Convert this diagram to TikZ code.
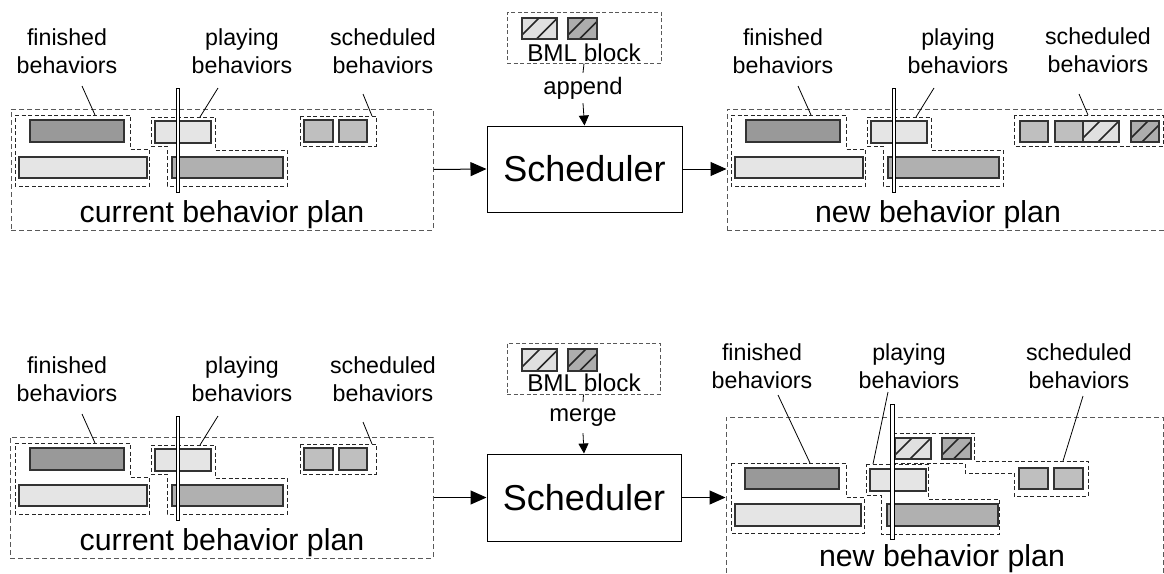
\documentclass[tikz,border=0pt]{standalone}
\usepackage{fontspec}
\setmainfont{Liberation Sans}
\usetikzlibrary{arrows.meta}
\definecolor{darkbar}{gray}{0.6}
\definecolor{midbar}{gray}{0.69}
\definecolor{lightbar}{gray}{0.9}
\definecolor{schedsq}{gray}{0.75}
\definecolor{hatchlight}{gray}{0.88}
\definecolor{hatchdark}{gray}{0.68}
\definecolor{dashgray}{gray}{0.35}
\tikzset{
  outerplan/.style={draw=dashgray, line width=1pt, dash pattern=on 5pt off 3pt, inner sep=0pt},
  grp/.style={draw=black!85, line width=1pt, dash pattern=on 4pt off 2.5pt},
  bar/.style={draw=black!80, line width=1.2pt},
  nowbar/.style={draw=black, fill=white, line width=0.9pt},
  leader/.style={draw=black, line width=0.8pt},
  lbl/.style={font=\fontsize{23.2}{28.5}\selectfont, align=center, inner sep=0pt, anchor=north},
  plantxt/.style={font=\fontsize{30.3}{36}\selectfont, inner sep=0pt, anchor=base},
  schedbox/.style={draw=black, line width=1pt, inner sep=0pt, font=\fontsize{36}{43}\selectfont},
  bmlbox/.style={draw=dashgray, line width=1pt, dash pattern=on 4pt off 2.5pt, inner sep=0pt},
  bmltxt/.style={font=\fontsize{24.3}{29}\selectfont, inner sep=0pt, anchor=base},
  optxt/.style={font=\fontsize{23.8}{28}\selectfont, inner sep=0pt},
  bigarr/.style={line width=1pt, -{Triangle[length=16pt,width=14pt]}},
  smallarr/.style={line width=0.8pt, -{Triangle[length=10pt,width=10pt]}},
  conn/.style={line width=0.8pt},
}
% hatched square: #1 fill, #2 x0, #3 y0, #4 x1, #5 y1
\newcommand\hatchsq[5]{%
  \begin{scope}
    \clip (#2,#3) rectangle (#4,#5);
    \fill[#1] (#2,#3) rectangle (#4,#5);
    \draw[line width=1.6pt, black!85] ({#2-4},#5) -- ++(22,-22);
    \draw[line width=1.6pt, black!85] ({#2+0.5*(#4-#2)-3},#5) -- ++(22,-22);
  \end{scope}
  \draw[bar] (#2,#3) rectangle (#4,#5);}
% finished + playing part of a plan: #1 suffix, #2 plan text
\newcommand\planbody[2]{%
  \draw[grp] (15,115) -- (130,115) -- (130,149) -- (149,149) -- (149,186) -- (15,186) -- cycle;
  \draw[bar, fill=darkbar] (30,120) rectangle (124,142);
  \draw[bar, fill=lightbar] (19,157) rectangle (147,178);
  \draw[grp] (151,117) -- (215,117) -- (215,150) -- (287,150) -- (287,186) -- (167,186) -- (167,146) -- (151,146) -- cycle;
  \draw[bar, fill=lightbar] (155,121) rectangle (211,143);
  \draw[bar, fill=midbar] (172,157) rectangle (283,178);
  \draw[nowbar] (176,88) rectangle (179,192);
  \node[lbl] (fin#1) at (67,28) {finished\\behaviors};
  \node[lbl] (play#1) at (242,28) {playing\\behaviors};
  \coordinate (fina#1) at (82,86); \coordinate (finb#1) at (95,115);
  \draw[leader] (fina#1) -- (finb#1);
  \coordinate (playa#1) at (218,88); \coordinate (playb#1) at (200,117);
  \draw[leader] (playa#1) -- (playb#1);
  \node[plantxt] (ptxt#1) at (222,222) {#2};
}
\begin{document}
\begin{tikzpicture}[x=1pt,y=-1pt]
\useasboundingbox (0,0) rectangle (1164,573);
\clip (0,0) rectangle (1164,573);

% ---------------- top row ----------------
\node[outerplan, minimum width=422pt, minimum height=121pt] (plan1) at (222,169.5) {};
\planbody{1}{current behavior plan}
\draw[grp] (300,116) rectangle (376,146);
\draw[bar, fill=schedsq] (304,120) rectangle (333,142);
\draw[bar, fill=schedsq] (339,120) rectangle (367,142);
\node[lbl] (sch1) at (383,28) {scheduled\\behaviors};
\coordinate (scha1) at (363,94); \coordinate (schb1) at (372,116);
\draw[leader] (scha1) -- (schb1);

\node[schedbox, minimum width=195pt, minimum height=86pt] (sched1) at (584.5,169) {Scheduler};
\node[bmlbox, minimum width=154pt, minimum height=51pt] (bml1) at (584,37.5) {};
\hatchsq{hatchlight}{522}{18}{557}{39}
\hatchsq{hatchdark}{568}{18}{597}{39}
\node[bmltxt] (bmlt1) at (584,61) {BML block};
\node[optxt, minimum height=30pt] (app1) at (583,88) {append};
\draw[conn] (bml1.south) -- (app1.north);
\draw[smallarr] (app1.south) -- (sched1.north);

\node[outerplan, minimum width=437pt, minimum height=121pt] (plan2) at (945.5,169.5) {};
\begin{scope}[shift={(716,0)}]
  \planbody{2}{new behavior plan}
\end{scope}
\draw[grp] (1014,115) rectangle (1163,146);
\draw[bar, fill=schedsq] (1020,121) rectangle (1048,142);
\draw[bar, fill=schedsq] (1055,121) rectangle (1083,142);
\hatchsq{hatchlight}{1083}{121}{1119}{142}
\hatchsq{hatchdark}{1131}{121}{1159}{142}
\node[lbl] (sch2) at (1098,27) {scheduled\\behaviors};
\coordinate (scha2) at (1079,94); \coordinate (schb2) at (1088,115);
\draw[leader] (scha2) -- (schb2);

\draw[bigarr] (plan1.east) -- (sched1.west);
\draw[bigarr] (sched1.east) -- (sched1.east -| plan2.west);

% ---------------- bottom row ----------------
\node[outerplan, minimum width=423pt, minimum height=121pt] (plan3) at (221.5,497.5) {};
\begin{scope}[shift={(0,328)}]
  \planbody{3}{current behavior plan}
  \draw[grp] (300,116) rectangle (376,146);
  \draw[bar, fill=schedsq] (304,120) rectangle (333,142);
  \draw[bar, fill=schedsq] (339,120) rectangle (367,142);
  \node[lbl] (sch3) at (383,28) {scheduled\\behaviors};
  \coordinate (scha3) at (363,94); \coordinate (schb3) at (372,116);
  \draw[leader] (scha3) -- (schb3);
\end{scope}

\node[schedbox, minimum width=194pt, minimum height=87pt] (sched2) at (584,497.5) {Scheduler};
\node[bmlbox, minimum width=153pt, minimum height=51pt] (bml2) at (583.5,368.5) {};
\hatchsq{hatchlight}{522}{349}{557}{371}
\hatchsq{hatchdark}{568}{349}{597}{371}
\node[bmltxt] (bmlt2) at (584,391) {BML block};
\node[optxt, minimum height=31pt] (mrg2) at (583,417.5) {merge};
\draw[conn] (bml2.south) -- (mrg2.north);
\draw[smallarr] (mrg2.south) -- (sched2.north);

\node[outerplan, minimum width=437pt, minimum height=183pt] (plan4) at (944.5,508.5) {};
\draw[grp] (731,463) -- (846,463) -- (846,497) -- (864,497) -- (864,533) -- (731,533) -- cycle;
\draw[bar, fill=darkbar] (745,468) rectangle (839,489);
\draw[bar, fill=lightbar] (735,504) rectangle (861,526);
\draw[grp] (866,464) -- (928,464) -- (928,499) -- (999,499) -- (999,534) -- (881,534) -- (881,495) -- (866,495) -- cycle;
\draw[bar, fill=lightbar] (870,469) rectangle (926,491);
\draw[bar, fill=midbar] (887,504) rectangle (998,526);
\draw[grp] (893,433) -- (974,433) -- (974,461) -- (1088,461) -- (1088,496) -- (1014,496) -- (1014,473) -- (965,473) -- (965,463) -- (893,463) -- cycle;
\hatchsq{hatchlight}{895}{438}{931}{459}
\hatchsq{hatchdark}{942}{438}{971}{459}
\draw[bar, fill=schedsq] (1019,468) rectangle (1048,489);
\draw[bar, fill=schedsq] (1054,468) rectangle (1083,489);
\draw[nowbar] (890,404) rectangle (894,539);
\node[lbl] (fin4) at (762,343) {finished\\behaviors};
\node[lbl] (play4) at (909,343) {playing\\behaviors};
\node[lbl] (sch4) at (1079,343) {scheduled\\behaviors};
\coordinate (fina4) at (778,395); \coordinate (finb4) at (810,463);
\draw[leader] (fina4) -- (finb4);
\coordinate (playa4) at (888,392); \coordinate (playb4) at (873,464);
\draw[leader] (playa4) -- (playb4);
\coordinate (scha4) at (1083,396); \coordinate (schb4) at (1063,461);
\draw[leader] (scha4) -- (schb4);
\node[plantxt] (ptxt4) at (942,566) {new behavior plan};

\draw[bigarr] (plan3.east) -- (sched2.west);
\draw[bigarr] (sched2.east) -- (sched2.east -| plan4.west);
\end{tikzpicture}
\end{document}
